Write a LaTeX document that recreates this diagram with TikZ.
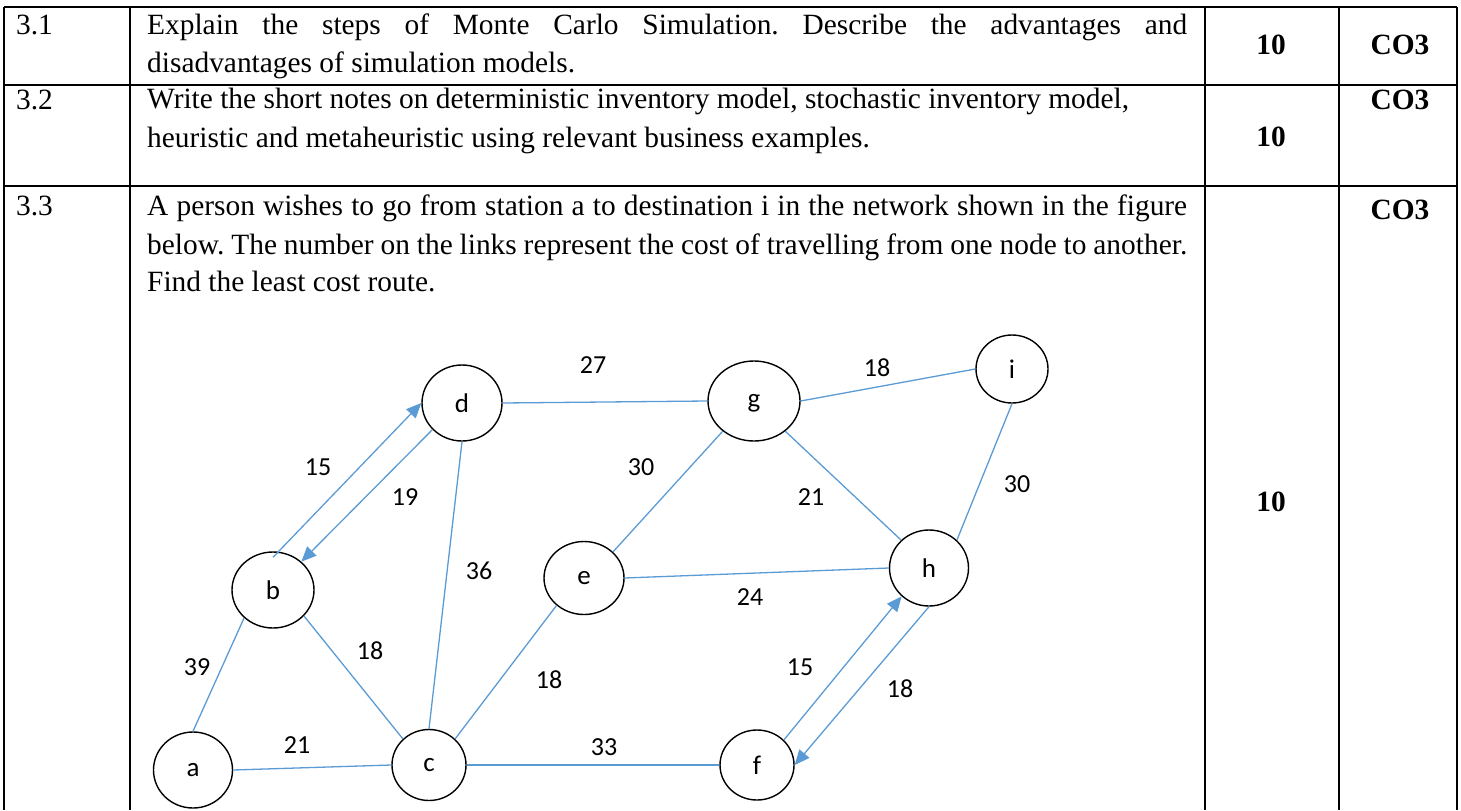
\documentclass[tikz,border=0pt]{standalone}
\usepackage{fontspec}
\setmainfont{Liberation Serif}
\newfontfamily\calib{Carlito}
\usetikzlibrary{shapes.geometric,arrows.meta}
\definecolor{edgeblue}{RGB}{91,155,213}
\frenchspacing
\begin{document}
\begin{tikzpicture}[x=1bp,y=-1bp,
  tline/.style={line width=2.2bp, black},
  vtx/.style={ellipse, draw=black, line width=1.4bp, inner sep=0pt, text depth=0pt, font=\calib\fontsize{27bp}{30bp}\selectfont},
  edge/.style={draw=edgeblue, line width=1.3bp},
  arr/.style={edge, -{Triangle[length=15bp,width=13bp]}},
  wlab/.style={font=\calib\fontsize{26bp}{30bp}\selectfont, inner sep=0pt},
  txt/.style={anchor=base west, inner sep=0pt, font=\fontsize{29.4bp}{38bp}\selectfont},
  btxt/.style={anchor=center, inner sep=0pt, font=\bfseries\fontsize{29.4bp}{38bp}\selectfont},
]
\useasboundingbox (0,0) rectangle (1461,810);
% table grid
\draw[tline] (4,7) -- (1457,7);
\draw[tline] (4,85) -- (1457,85);
\draw[tline] (4,186) -- (1457,186);
\foreach \x in {4,130,1205,1339,1457} \draw[tline] (\x,7) -- (\x,810);
% row 3.1
\node[txt] (n31) at (16,35) {3.1};
\node[txt] (t31a) at (147,35) {\makebox[1040bp][s]{Explain the steps of Monte Carlo Simulation. Describe the advantages and}};
\node[txt] (t31b) at (147,73) {disadvantages of simulation models.};
\node[btxt] (m31) at (1271,45) {10};
\node[btxt] (c31) at (1400,45) {CO3};
% row 3.2
\node[txt] (n32) at (16,109) {3.2};
\node[txt] (t32a) at (147,108) {Write the short notes on deterministic inventory model, stochastic inventory model,};
\node[txt] (t32b) at (147,147) {heuristic and metaheuristic using relevant business examples.};
\node[btxt] (m32) at (1271,137) {10};
\node[btxt] (c32) at (1400,100) {CO3};
% row 3.3
\node[txt] (n33) at (16,215) {3.3};
\node[txt] (t33a) at (147,215) {\makebox[1040bp][s]{A person wishes to go from station a to destination i in the network shown in the figure}};
\node[txt] (t33b) at (147,254) {\makebox[1040bp][s]{below. The number on the links represent the cost of travelling from one node to another.}};
\node[txt] (t33c) at (147,291) {Find the least cost route.};
\node[btxt] (m33) at (1271,502) {10};
\node[btxt] (c33) at (1400,210) {CO3};
% graph nodes
\node[vtx, minimum width=79bp, minimum height=76bp] (a) at (193,770) {a};
\node[vtx, minimum width=82bp, minimum height=76bp] (b) at (273,590) {b};
\node[vtx, minimum width=74bp, minimum height=71bp] (c) at (429,765) {c};
\node[vtx, minimum width=80bp, minimum height=76bp] (d) at (462,403) {d};
\node[vtx, minimum width=80bp, minimum height=73bp] (e) at (584,578) {e};
\node[vtx, minimum width=74bp, minimum height=70bp] (f) at (757,765) {f};
\node[vtx, minimum width=92bp, minimum height=80bp] (g) at (754,401) {g};
\node[vtx, minimum width=79bp, minimum height=76bp] (h) at (929,568) {h};
\node[vtx, minimum width=72bp, minimum height=68bp] (i) at (1012,369) {i};
% edges
\draw[edge] (a.north) -- (b.224);
\draw[edge] (b.320) -- (c.135);
\draw[edge] (d.south) -- (c.north);
\draw[edge] (c.45) -- (e.225);
\draw[edge] (a.east) -- (c.west);
\draw[edge] (c.east) -- (f.west);
\draw[edge] (d.east) -- (g.west);
\draw[edge] (e.42) -- (g.224);
\draw[edge] (e.east) -- (h.west);
\draw[edge] (g.east) -- (i.west);
\draw[edge] (g.316) -- (h.135);
\draw[edge] (i.south) -- (h.45);
\draw[arr] ([yshift=-6bp]b.north) -- (d.west);
\draw[arr] (d.222) -- (b.45);
\draw[arr] (f.43) -- (h.226);
\draw[arr] (h.south) -- (f.east);
% weights
\node[wlab] (w1) at (593,365) {27};
\node[wlab] (w2) at (877,368) {18};
\node[wlab] (w3) at (318,467) {15};
\node[wlab] (w4) at (405,497) {19};
\node[wlab] (w5) at (641,467) {30};
\node[wlab] (w6) at (811,497) {21};
\node[wlab] (w7) at (1017,484) {30};
\node[wlab] (w8) at (479,571) {36};
\node[wlab] (w9) at (750,597) {24};
\node[wlab] (w10) at (197,667) {39};
\node[wlab] (w11) at (370,651) {18};
\node[wlab] (w12) at (549,680) {18};
\node[wlab] (w13) at (800,667) {15};
\node[wlab] (w14) at (900,689) {18};
\node[wlab] (w15) at (297,745) {21};
\node[wlab] (w16) at (604,747) {33};
\end{tikzpicture}
\end{document}
